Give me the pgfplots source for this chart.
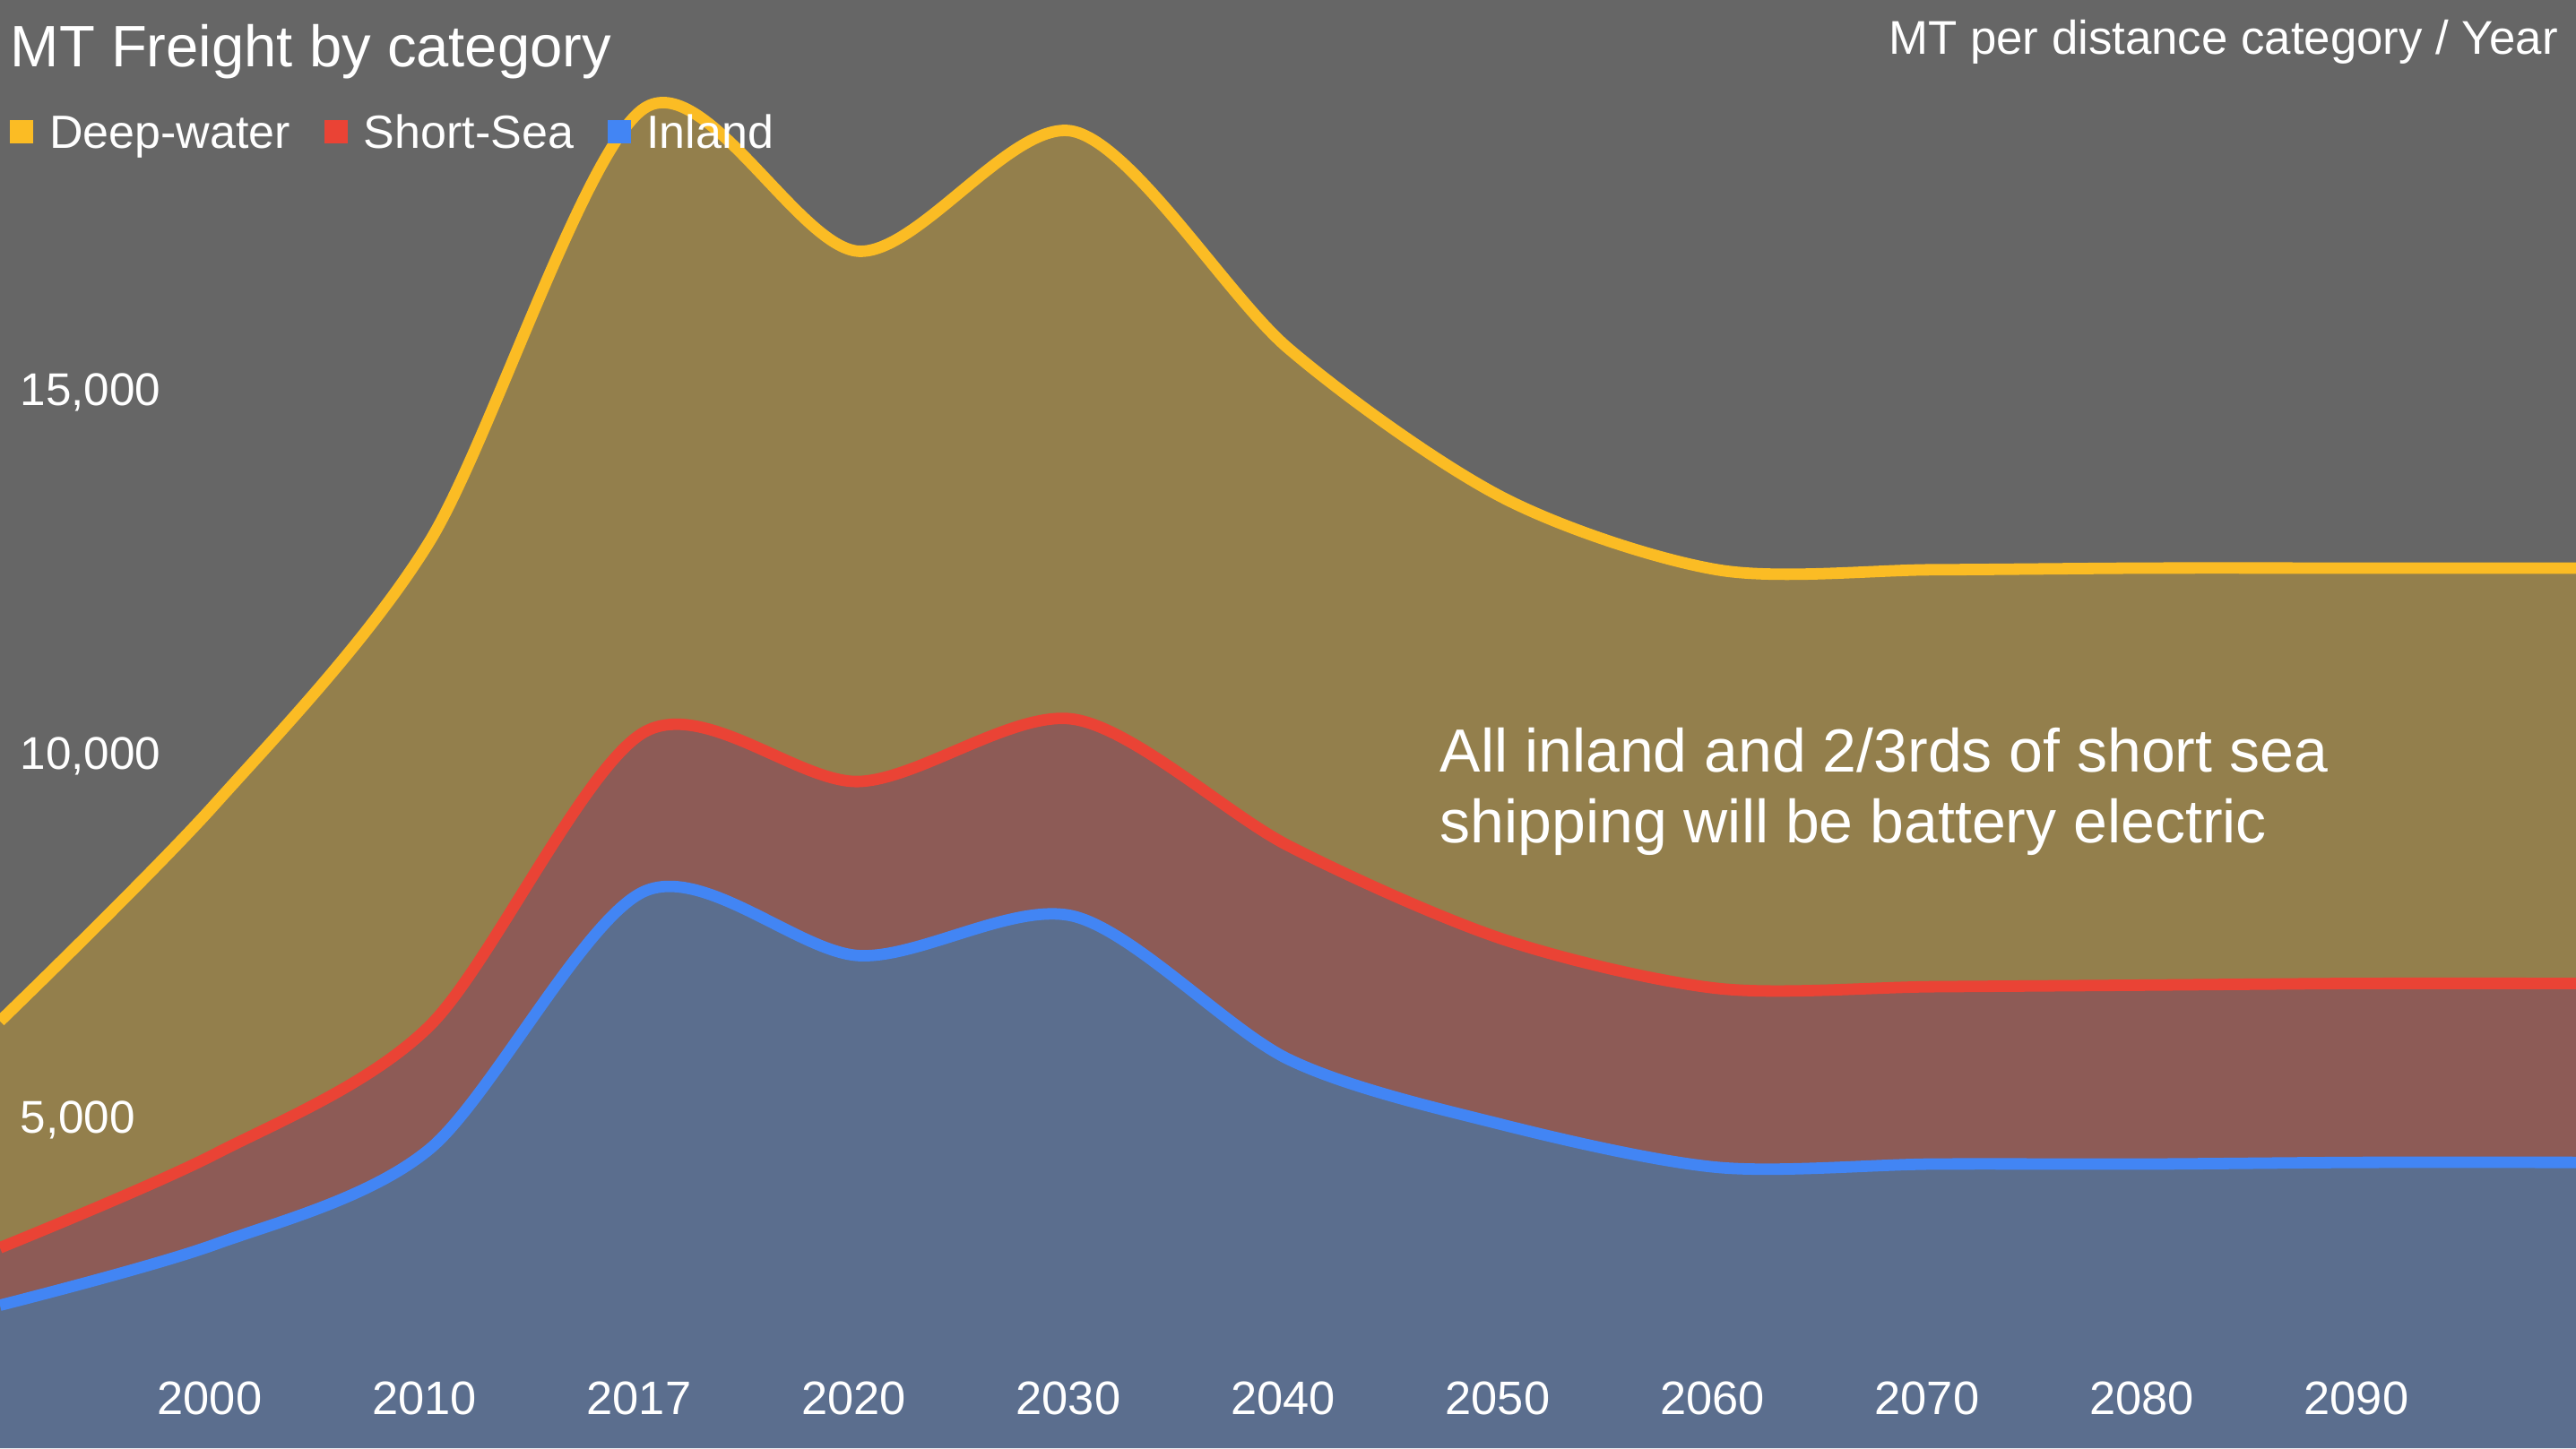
\documentclass[border=0pt]{standalone}
\usepackage{fontspec}
\setmainfont{Liberation Sans}
\usepackage{pgfplots}
\usepackage{pgfplotstable}
\pgfplotsset{compat=1.18}
\definecolor{bg}{HTML}{666666}
\definecolor{yline}{HTML}{FBBC24}
\definecolor{rline}{HTML}{EA4335}
\definecolor{bline}{HTML}{4285F4}
\definecolor{yarea}{HTML}{937F4C}
\definecolor{rarea}{HTML}{8D5B56}
\definecolor{barea}{HTML}{5B6E8E}

% idx: -1 = (unlabelled start), 0 = 2000, 1 = 2010, 2 = 2017, 3 = 2020, 4 = 2030, ... 10 = 2090, 11 = (unlabelled end)
\pgfplotstableread{
idx inland short deep
-1  2449   790  3115
0   3284  1241  4808
1   4593  1693  6658
2   8137  2189  8576
3   7256  2393  7290
4   7798  2708  8081
5   5834  2935  6838
6   4931  2551  6071
7   4345  2460  5755
8   4390  2438  5732
9   4390  2460  5733
10  4413  2460  5710
11  4413  2460  5710
}\freight

\begin{document}
\begin{tikzpicture}
\pgfplotsset{base/.style={width=718.5pt,height=404pt,scale only axis,
  xmin=-1,xmax=11,ymin=485,ymax=20393,stack plots=y,
  scaled x ticks=false, scaled y ticks=false,
  axis line style={draw=none}, major tick length=0pt, tick style={draw=none}}}
\begin{axis}[base, name=A, xtick=\empty, ytick=\empty,
  axis background/.style={fill=bg}]
\addplot[smooth, draw=none, fill=barea] table[x=idx,y=inland]{\freight} \closedcycle;
\addplot[smooth, draw=none, fill=rarea] table[x=idx,y=short]{\freight} \closedcycle;
\addplot[smooth, draw=none, fill=yarea] table[x=idx,y=deep]{\freight} \closedcycle;
\end{axis}
\begin{axis}[base,
  xtick={0,...,10},
  xticklabels={2000,2010,2017,2020,2030,2040,2050,2060,2070,2080,2090},
  ytick={5000,10000,15000},
  yticklabels={{5,000},{10,000},{15,000}},
  ticklabel style={text=white, inner sep=0pt},
  xticklabel style={anchor=base, yshift=9.35pt, xshift=-1.4pt, font=\fontsize{13.1}{14}\selectfont},
  yticklabel style={anchor=west, xshift=5.5pt, font=\fontsize{12.8}{14}\selectfont}]
\addplot[smooth, bline, line width=3.2pt] table[x=idx,y=inland]{\freight};
\addplot[smooth, rline, line width=3.2pt] table[x=idx,y=short]{\freight};
\addplot[smooth, yline, line width=3.2pt] table[x=idx,y=deep]{\freight};
\end{axis}
\node[anchor=base west, inner sep=0pt, text=white, font=\fontsize{16.3}{18}\selectfont]
  at ([shift={(2.75pt,-18.65pt)}]A.north west) {MT Freight by category};
\node[anchor=base east, inner sep=0pt, text=white, font=\fontsize{13.2}{15}\selectfont]
  at ([shift={(-4.9pt,-15.2pt)}]A.north east) {MT per distance category / Year};
\node[anchor=base west, inner sep=0pt, text=white, font=\fontsize{13}{15}\selectfont]
  at ([shift={(2.5pt,-41.3pt)}]A.north west)
  {\textcolor{yline}{\rule[1.35pt]{6.5pt}{6.5pt}}\hspace{4.6pt}Deep-water\hspace{9.4pt}\textcolor{rline}{\rule[1.35pt]{6.5pt}{6.5pt}}\hspace{4.6pt}Short-Sea\hspace{9.4pt}\textcolor{bline}{\rule[1.35pt]{6.5pt}{6.5pt}}\hspace{4.4pt}Inland};
\node[anchor=base west, inner sep=0pt, text=white, font=\fontsize{17}{19.7}\selectfont]
  at ([shift={(401.5pt,-215.5pt)}]A.north west) {All inland and 2/3rds of short sea};
\node[anchor=base west, inner sep=0pt, text=white, font=\fontsize{17}{19.7}\selectfont]
  at ([shift={(401.5pt,-235.2pt)}]A.north west) {shipping will be battery electric};
\pgfresetboundingbox
\useasboundingbox (A.south west) rectangle (A.north east);
\end{tikzpicture}
\end{document}
